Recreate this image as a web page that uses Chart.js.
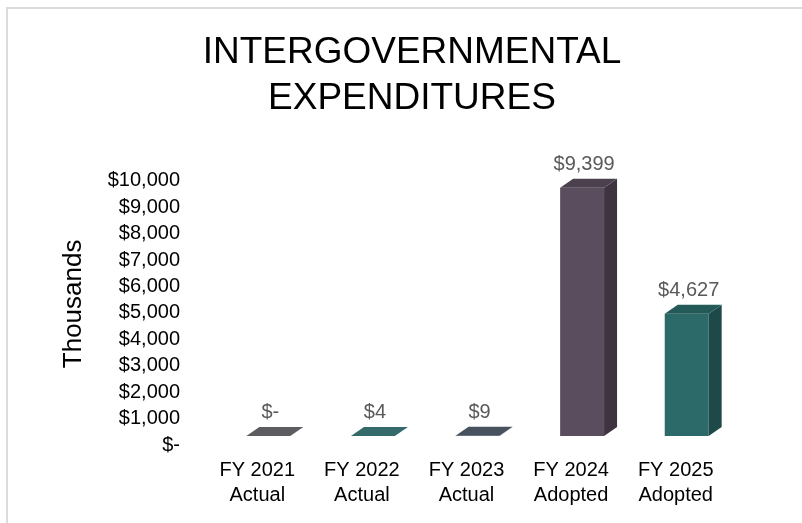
<!DOCTYPE html>
<html>
<head>
<meta charset="utf-8">
<script src="https://cdn.jsdelivr.net/npm/chart.js@4/dist/chart.umd.min.js"></script>
<style>
  html, body { margin: 0; padding: 0; background: #fff; }
  #wrap { position: relative; width: 802px; height: 523px; overflow: hidden; }
  #frame { position: absolute; left: 6px; top: 7px; width: 820px; height: 540px;
           border-left: 2px solid #dcdcdc; border-top: 2px solid #dcdcdc; }
  canvas { position: absolute; left: 0; top: 0; }
</style>
</head>
<body>
<div id="wrap">
  <div id="frame"></div>
  <canvas id="c" width="802" height="523"></canvas>
</div>
<script>
// ---- data ----
const titleLines = ['INTERGOVERNMENTAL', 'EXPENDITURES'];
const categories = [['FY 2021', 'Actual'], ['FY 2022', 'Actual'], ['FY 2023', 'Actual'], ['FY 2024', 'Adopted'], ['FY 2025', 'Adopted']];
const values = [0, 4, 9, 9399, 4627];
const valueLabels = ['$-', '$4', '$9', '$9,399', '$4,627'];
const yAxisTitle = 'Thousands';
const yMin = 0;
const yMax = 10000;
const yStep = 1000;

// ---- colours (front / side / top faces) ----
const frontColors = ['#67676c', '#3f7575', '#515b69', '#5a4d5e', '#2b6a69'];
const sideColors  = ['#48484c', '#2a5555', '#3a414d', '#3d343f', '#1d4a48'];
const topColors   = ['#5c5c61', '#356a6a', '#48525f', '#4b404e', '#235a58'];

const FONT = "'Liberation Sans', Arial, Helvetica, sans-serif";
const DX = 13, DY = 9;

const bar3d = {
  id: 'bar3d',
  afterDatasetsDraw(chart) {
    const ctx = chart.ctx;
    const meta = chart.getDatasetMeta(0);
    meta.data.forEach((el, i) => {
      const p = el.getProps(['x', 'y', 'base', 'width'], true);
      const l = p.x - p.width / 2, r = p.x + p.width / 2, t = p.y, b = p.base;
      ctx.save();
      // side face
      ctx.fillStyle = sideColors[i];
      ctx.beginPath();
      ctx.moveTo(r, t); ctx.lineTo(r + DX, t - DY); ctx.lineTo(r + DX, b - DY); ctx.lineTo(r, b);
      ctx.closePath(); ctx.fill();
      // top face
      ctx.fillStyle = topColors[i];
      ctx.beginPath();
      ctx.moveTo(l, t); ctx.lineTo(l + DX, t - DY); ctx.lineTo(r + DX, t - DY); ctx.lineTo(r, t);
      ctx.closePath(); ctx.fill();
      // value label
      ctx.fillStyle = '#595959';
      ctx.font = '20px ' + FONT;
      ctx.textAlign = 'center';
      ctx.textBaseline = 'middle';
      ctx.fillText(valueLabels[i], p.x + 2, t - DY - 14.5);
      ctx.restore();
    });
  }
};

new Chart(document.getElementById('c'), {
  type: 'bar',
  data: {
    labels: categories,
    datasets: [{
      data: values,
      backgroundColor: frontColors,
      borderWidth: 0,
      barPercentage: 0.42,
      categoryPercentage: 1.0
    }]
  },
  options: {
    responsive: false,
    animation: false,
    devicePixelRatio: 1,
    layout: { padding: { left: 22, right: 0, top: 0, bottom: 0 } },
    plugins: {
      legend: { display: false },
      tooltip: { enabled: false },
      title: {
        display: true,
        text: titleLines,
        color: '#000',
        font: { family: FONT, size: 37, weight: 'normal', lineHeight: 1.24 },
        padding: { top: 30, bottom: 50 }
      }
    },
    scales: {
      x: {
        grid: { display: false, drawTicks: false },
        border: { display: false },
        ticks: {
          color: '#000',
          font: { family: FONT, size: 20, lineHeight: 1.25 },
          padding: 22,
          labelOffset: -11,
          maxRotation: 0,
          autoSkip: false
        },
        afterFit(scale) { scale.height = 87; }
      },
      y: {
        min: yMin, max: yMax,
        grid: { display: false, drawTicks: false },
        border: { display: false },
        ticks: {
          stepSize: yStep,
          autoSkip: false,
          color: '#000',
          font: { family: FONT, size: 20 },
          padding: 36,
          labelOffset: 9,
          callback: (v) => v === 0 ? '$-' : '$' + v.toLocaleString('en-US')
        },
        title: {
          display: true,
          text: yAxisTitle,
          color: '#000',
          font: { family: FONT, size: 26, lineHeight: 1.2 },
          padding: { top: 36, bottom: 0 }
        },
        afterFit(scale) { scale.width = 194; }
      },
      yRight: {
        position: 'right',
        display: true,
        grid: { display: false, drawTicks: false },
        border: { display: false },
        ticks: { display: false },
        afterFit(scale) { scale.width = 63; }
      }
    }
  },
  plugins: [bar3d]
});
</script>
</body>
</html>
